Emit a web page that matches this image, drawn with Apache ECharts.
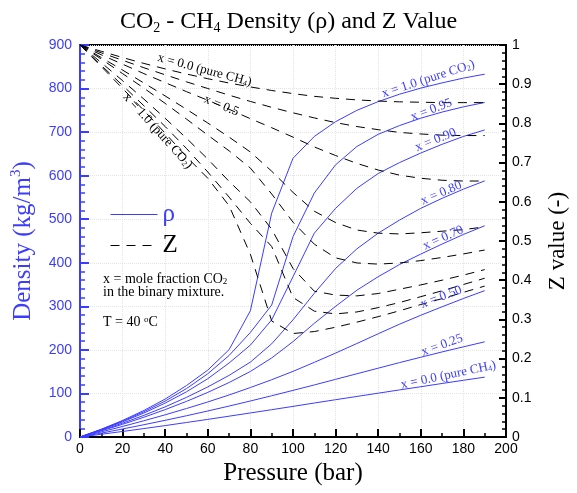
<!DOCTYPE html>
<html>
<head>
<meta charset="utf-8">
<script src="https://cdn.jsdelivr.net/npm/echarts@6/dist/echarts.min.js"></script>
<style>
html, body { margin: 0; padding: 0; background: #fff; }
#chart { width: 577px; height: 493px; }
</style>
</head>
<body>
<div id="chart"></div>
<script>
// pressure grid (bar)
var pressure = [0, 10, 20, 30, 40, 50, 60, 70, 80, 90, 100, 110, 120, 130, 140, 150, 160, 170, 180, 190];

// density (kg/m3) for each CO2 mole fraction
var rhoX100 = [0, 17.9, 38.0, 60.9, 87.2, 118.2, 153.6, 200.5, 290, 514, 640, 690, 724, 750, 770, 787, 801, 813, 824, 833];
var rhoX095 = [0, 17.3, 36.5, 58.1, 82.6, 111.2, 145.2, 187.2, 240, 303, 460, 560, 625, 667, 695, 715, 732, 746, 758, 768];
var rhoX090 = [0, 16.6, 34.8, 55.1, 77.9, 103.8, 133.9, 169.9, 211, 269, 368, 468, 525, 571, 605, 630, 652, 672, 690, 705];
var rhoX080 = [0, 15.3, 31.8, 49.7, 69.3, 91.0, 115.0, 141.5, 172, 214, 269, 330, 387, 432, 468, 498, 525, 548, 569, 588];
var rhoX070 = [0, 14.1, 29.2, 45.4, 62.9, 81.8, 102.4, 125.1, 150.5, 181.5, 219, 261, 300, 337, 368, 396, 420, 443, 465, 485];
var rhoX050 = [0, 11.8, 24.2, 37.3, 51.0, 65.4, 80.5, 96.5, 113.6, 131.5, 150.7, 171.4, 192.7, 214.7, 237, 259, 279.5, 299, 318, 336];
var rhoX025 = [0, 9.0, 18.4, 28.2, 38.3, 48.8, 59.7, 71.0, 82.7, 94.7, 107, 119.5, 132.4, 145.2, 158, 170.8, 183.1, 195.3, 207, 218.5];
var rhoX000 = [0, 6.3, 12.7, 19.4, 26.2, 33.3, 40.4, 47.8, 55.2, 62.7, 70.3, 78, 85.6, 93.1, 100.6, 108.1, 115.4, 122.9, 130.2, 137.4];

// compressibility factor Z
var zX100 = [1, 0.945, 0.889, 0.833, 0.775, 0.715, 0.660, 0.590, 0.466, 0.296, 0.264, 0.269, 0.280, 0.293, 0.307, 0.322, 0.338, 0.353, 0.369, 0.385];
var zX095 = [1, 0.948, 0.897, 0.845, 0.792, 0.736, 0.676, 0.612, 0.545, 0.486, 0.356, 0.321, 0.314, 0.319, 0.330, 0.343, 0.358, 0.373, 0.389, 0.405];
var zX090 = [1, 0.955, 0.909, 0.862, 0.813, 0.762, 0.709, 0.652, 0.600, 0.530, 0.430, 0.372, 0.362, 0.360, 0.366, 0.377, 0.388, 0.400, 0.413, 0.427];
var zX080 = [1, 0.964, 0.927, 0.890, 0.851, 0.811, 0.770, 0.730, 0.686, 0.620, 0.548, 0.492, 0.457, 0.444, 0.441, 0.444, 0.450, 0.458, 0.467, 0.477];
var zX070 = [1, 0.968, 0.936, 0.903, 0.870, 0.836, 0.801, 0.765, 0.727, 0.678, 0.624, 0.576, 0.547, 0.528, 0.520, 0.518, 0.521, 0.525, 0.529, 0.536];
var zX050 = [1, 0.975, 0.951, 0.927, 0.904, 0.881, 0.859, 0.836, 0.812, 0.789, 0.765, 0.740, 0.718, 0.698, 0.681, 0.668, 0.660, 0.655, 0.653, 0.653];
var zX025 = [1, 0.980, 0.961, 0.942, 0.924, 0.906, 0.889, 0.872, 0.856, 0.841, 0.827, 0.814, 0.802, 0.792, 0.784, 0.777, 0.773, 0.770, 0.769, 0.769];
var zX000 = [1, 0.984, 0.968, 0.953, 0.939, 0.926, 0.914, 0.903, 0.893, 0.884, 0.876, 0.869, 0.864, 0.860, 0.857, 0.855, 0.854, 0.853, 0.853, 0.853];

// curve labels
var rhoLabels = ['x = 1.0 (pure CO{sub|2})', 'x = 0.95', 'x = 0.90', 'x = 0.80', 'x = 0.70', 'x = 0.50', 'x = 0.25', 'x = 0.0 (pure CH{sub|4})'];
var rhoLabelAt = [[163.5, 822], [165, 751], [167, 682], [169.6, 560], [170.5, 457], [169.6, 321], [170, 211], [173, 142]];
var rhoLabelAngle = [18, 21, 22, 23, 24, 21, 20, 12];
var zLabels = ['x = 0.0 (pure CH{sub|4})', 'x = 0.5', 'x = 1.0 (pure CO{sub|2})'];
var zLabelAt = [[58.5, 0.936], [66.4, 0.845], [36.5, 0.781]];
var zLabelAngle = [-15, -22, -48];

var blue = '#3c3cff';
var serif = '"Liberation Serif", "Times New Roman", serif';
var sans = '"Liberation Sans", Arial, sans-serif';

function pairs(ys) {
    return pressure.map(function (p, i) { return [p, ys[i]]; });
}

var chart = echarts.init(document.getElementById('chart'));

var series = [];
[rhoX100, rhoX095, rhoX090, rhoX080, rhoX070, rhoX050, rhoX025, rhoX000].forEach(function (d) {
    series.push({
        name: 'ρ', type: 'line', data: pairs(d), symbol: 'none', animation: false,
        lineStyle: { color: blue, width: 1 }, itemStyle: { color: blue }
    });
});
[zX100, zX095, zX090, zX080, zX070, zX050, zX025, zX000].forEach(function (d) {
    series.push({
        name: 'Z', type: 'line', yAxisIndex: 1, data: pairs(d), symbol: 'none', animation: false,
        lineStyle: { color: '#000', width: 1, type: [9, 7] }, itemStyle: { color: '#000' }
    });
});

var option = {
    backgroundColor: '#fff',
    title: {
        text: 'CO{sub|2} - CH{sub|4} Density (ρ) and Z Value',
        left: 'center', top: 3,
        textStyle: {
            fontFamily: serif, fontSize: 24, fontWeight: 'normal', color: '#000', lineHeight: 27,
            rich: { sub: { fontFamily: serif, fontSize: 14, verticalAlign: 'bottom', lineHeight: 17 } }
        }
    },
    grid: { left: 80, right: 70, top: 45, bottom: 56, show: true, borderColor: '#000', borderWidth: 2 },
    legend: {
        orient: 'vertical', left: 105, top: 197, itemWidth: 47, itemHeight: 16, itemGap: 6,
        selectedMode: false,
        itemStyle: { opacity: 0 },
        lineStyle: { width: 1 },
        data: [{ name: 'ρ', textStyle: { color: blue } }, { name: 'Z', textStyle: { color: '#000' } }],
        textStyle: { fontFamily: serif, fontSize: 25 }
    },
    xAxis: {
        type: 'value', min: 0, max: 200, interval: 20,
        name: 'Pressure (bar)', nameLocation: 'middle', nameGap: 22,
        nameTextStyle: { fontFamily: serif, fontSize: 25, color: '#000', verticalAlign: 'top' },
        axisLine: { show: true, lineStyle: { color: '#000', width: 2 } },
        axisTick: { inside: true, length: 8, lineStyle: { color: '#000', width: 2 } },
        minorTick: { show: true, splitNumber: 2, length: 4, lineStyle: { color: '#000', width: 1.5 } },
        axisLabel: { color: '#000', fontFamily: sans, fontSize: 14, margin: 5 },
        splitLine: { show: true, lineStyle: { color: '#e4e4e4', type: 'dotted' } }
    },
    yAxis: [{
        type: 'value', min: 0, max: 900, interval: 100, position: 'left',
        name: 'Density (kg/m{sup|3})', nameLocation: 'middle', nameGap: 43,
        nameTextStyle: {
            fontFamily: serif, fontSize: 25, color: blue, lineHeight: 28,
            rich: { sup: { fontFamily: serif, fontSize: 15, color: blue, verticalAlign: 'top', lineHeight: 16 } }
        },
        axisLine: { show: true, lineStyle: { color: blue, width: 2 } },
        axisTick: { inside: true, length: 9, lineStyle: { color: blue, width: 2 } },
        minorTick: { show: true, splitNumber: 5, length: 5, lineStyle: { color: blue, width: 1.5 } },
        axisLabel: { color: blue, fontFamily: sans, fontSize: 14, margin: 8 },
        splitLine: { show: true, lineStyle: { color: '#e4e4e4', type: 'dotted' } }
    }, {
        type: 'value', min: 0, max: 1, interval: 0.1, position: 'right',
        name: 'Z value (-)', nameLocation: 'middle', nameGap: 40,
        nameTextStyle: { fontFamily: serif, fontSize: 23, color: '#000' },
        axisLine: { show: true, lineStyle: { color: '#000', width: 2 } },
        axisTick: { inside: true, length: 7, lineStyle: { color: '#000', width: 2 } },
        minorTick: { show: true, splitNumber: 5, length: 4, lineStyle: { color: '#000', width: 1.5 } },
        axisLabel: { color: '#000', fontFamily: sans, fontSize: 14, margin: 6 },
        splitLine: { show: false }
    }],
    series: series
};
chart.setOption(option);

// labels anchored to data coordinates
var graphics = [];
rhoLabels.forEach(function (t, i) {
    var pt = chart.convertToPixel({ xAxisIndex: 0, yAxisIndex: 0 }, rhoLabelAt[i]);
    graphics.push({
        type: 'text', x: pt[0], y: pt[1], rotation: rhoLabelAngle[i] * Math.PI / 180, z: 10,
        style: {
            text: t, fill: blue, font: '13px ' + serif, align: 'center', verticalAlign: 'middle',
            rich: { sub: { fontFamily: serif, fontSize: 8, fill: blue, verticalAlign: 'bottom', lineHeight: 10 } }
        }
    });
});
zLabels.forEach(function (t, i) {
    var pt = chart.convertToPixel({ xAxisIndex: 0, yAxisIndex: 1 }, zLabelAt[i]);
    graphics.push({
        type: 'text', x: pt[0], y: pt[1], rotation: zLabelAngle[i] * Math.PI / 180, z: 10,
        style: {
            text: t, fill: '#000', font: '13px ' + serif, align: 'center', verticalAlign: 'middle',
            rich: { sub: { fontFamily: serif, fontSize: 8, fill: '#000', verticalAlign: 'bottom', lineHeight: 10 } }
        }
    });
});
var notes = ['x = mole fraction CO{sub|2}', 'in the binary mixture.', 'T = 40 {sup|o}C'];
var noteY = [279, 292, 322];
notes.forEach(function (t, i) {
    graphics.push({
        type: 'text', x: 103, y: noteY[i], z: 10,
        style: {
            text: t, fill: '#000', font: '14px ' + serif, align: 'left', verticalAlign: 'middle',
            rich: {
                sub: { fontFamily: serif, fontSize: 9, fill: '#000', verticalAlign: 'bottom', lineHeight: 11 },
                sup: { fontFamily: serif, fontSize: 9, fill: '#000', verticalAlign: 'top', lineHeight: 11 }
            }
        }
    });
});
chart.setOption({ graphic: graphics });
</script>
</body>
</html>
